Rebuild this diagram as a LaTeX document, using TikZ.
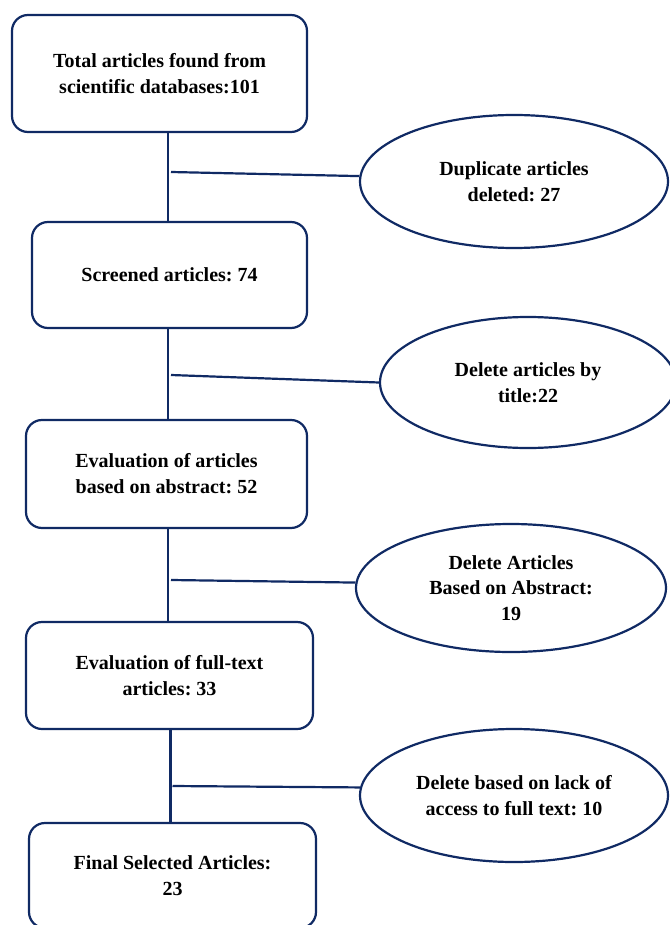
\documentclass[tikz,border=0pt]{standalone}
\usepackage{fontspec}
\setmainfont{Liberation Serif}
\usepackage{xcolor}
\usetikzlibrary{shapes.geometric,positioning}
\definecolor{navy}{RGB}{16,42,100}
\frenchspacing

\begin{document}
\begin{tikzpicture}[x=1pt,y=-1pt,
  stagebox/.style={draw=navy,line width=2.2pt,rounded corners=16pt,align=center,inner sep=0pt,
    font=\bfseries\fontsize{20}{26}\selectfont},
  dropoval/.style={draw=navy,line width=2.2pt,ellipse,align=center,inner sep=0pt,
    font=\bfseries\fontsize{20}{25.5}\selectfont},
  link/.style={draw=navy,line width=2.2pt}]
  \useasboundingbox[fill=white] (0,0) rectangle (669,925);
  % stages of the selection
  \node[stagebox,minimum width=295pt,minimum height=117pt] (total) at (159.5,73.5)
    {Total articles found from\\scientific databases:101};
  \node[stagebox,minimum width=275pt,minimum height=106pt] (screen) at (169.5,275)
    {Screened articles: 74};
  \node[stagebox,minimum width=281pt,minimum height=108pt] (abstr) at (166.5,474)
    {Evaluation of articles\\based on abstract: 52};
  \node[stagebox,minimum width=287pt,minimum height=107pt] (fulltxt) at (169.5,675.5)
    {Evaluation of full-text\\articles: 33};
  \node[stagebox,minimum width=287pt,minimum height=105pt] (final) at (172.5,875.5)
    {Final Selected Articles:\\23};
  % removed articles
  \node[dropoval,minimum width=308pt,minimum height=133pt] (dup) at (514,181.5)
    {Duplicate articles\\deleted: 27};
  \node[dropoval,minimum width=296pt,minimum height=131pt] (title) at (528,382.5)
    {Delete articles by\\title:22};
  \node[dropoval,minimum width=310pt,minimum height=128pt] (absdel) at (511,588)
    {Delete Articles\\Based on Abstract:\\19};
  \node[dropoval,minimum width=308pt,minimum height=133pt] (access) at (514,795.5)
    {Delete based on lack of\\access to full text: 10};
  % junctions on the trunk
  \coordinate (j1) at (168,172);
  \coordinate (j2) at (168,375);
  \coordinate (j3) at (168,580);
  \coordinate (j4) at (170.5,786);
  \draw[link] (total.south -| j1) -- (screen.north -| j1);
  \draw[link] (screen.south -| j2) -- (abstr.north -| j2);
  \draw[link] (abstr.south -| j3) -- (fulltxt.north -| j3);
  \draw[link] (fulltxt.south -| j4) -- (final.north -| j4);
  \draw[link] ([xshift=3pt]j1) -- (dup.178);
  \draw[link] ([xshift=3pt]j2) -- (title.west);
  \draw[link] ([xshift=3pt]j3) -- (absdel.178);
  \draw[link] ([xshift=2pt]j4) -- (access.177);
\end{tikzpicture}
\end{document}
